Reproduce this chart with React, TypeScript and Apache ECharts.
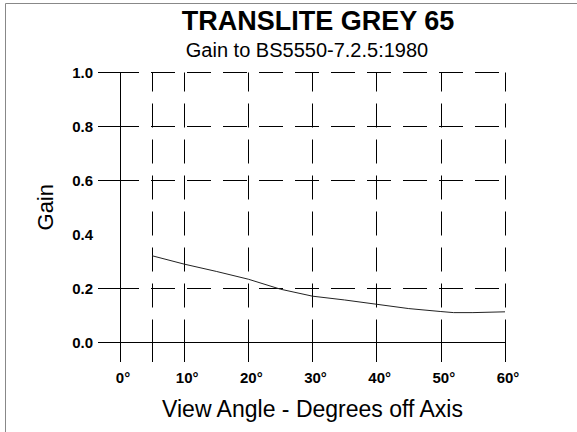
import React, { useEffect, useRef } from "react";
import * as echarts from "echarts";

const titleText = "TRANSLITE GREY 65";
const subtitleText = "Gain to BS5550-7.2.5:1980";
const xName = "View Angle - Degrees off Axis";
const yName = "Gain";

const angles = [5, 10, 15, 20, 25, 30, 35, 40, 45, 50, 52, 55, 60];
const gains = [0.32, 0.289, 0.262, 0.233, 0.196, 0.17, 0.156, 0.14, 0.124, 0.113, 0.109, 0.109, 0.112];

const xTickValues = [0, 5, 10, 20, 30, 40, 50, 60];
const xLabelValues = [0, 10, 20, 30, 40, 50, 60];
const yTickValues = [0, 0.2, 0.6, 0.8, 1.0];
const yLabelValues = [0, 0.2, 0.4, 0.6, 0.8, 1.0];

const FONT = "'Liberation Sans', Arial, sans-serif";

export default function App() {
  const ref = useRef<HTMLDivElement>(null);
  useEffect(() => {
    if (!ref.current) return;
    const chart = echarts.init(ref.current, undefined, { renderer: "svg" });
    const dash = { color: "#000", width: 1, type: [24, 12] as any, dashOffset: 5 };
    chart.setOption({
      animation: false,
      backgroundColor: "#fff",
      textStyle: { fontFamily: FONT },
      title: [
        {
          text: titleText,
          left: 318,
          top: 7,
          textAlign: "center",
          padding: 0,
          textStyle: { fontSize: 27, fontWeight: "bold", color: "#000", fontFamily: FONT },
        },
        {
          text: subtitleText,
          left: 307,
          top: 40,
          textAlign: "center",
          padding: 0,
          textStyle: { fontSize: 20, fontWeight: "normal", color: "#000", fontFamily: FONT },
        },
      ],
      graphic: [
        { type: "line", shape: { x1: 5.5, y1: 3.5, x2: 577, y2: 3.5 }, style: { stroke: "#888", lineWidth: 1 } },
        { type: "line", shape: { x1: 5.5, y1: 3.5, x2: 5.5, y2: 432 }, style: { stroke: "#888", lineWidth: 1 } },
      ],
      grid: { left: 120, right: 72, top: 72.5, bottom: 90, containLabel: false },
      xAxis: {
        type: "value",
        min: 0,
        max: 60,
        interval: 10,
        name: xName,
        nameLocation: "middle",
        nameGap: 55,
        nameTextStyle: { fontSize: 23, fontWeight: "normal", color: "#000", fontFamily: FONT },
        axisLine: { show: true, onZero: false, lineStyle: { color: "#000", width: 1 } },
        axisTick: { show: true, length: 20, customValues: xTickValues, lineStyle: { color: "#000", width: 1 } },
        axisLabel: {
          customValues: xLabelValues,
          formatter: (v: number) => `${v}°`,
          fontWeight: "bold",
          fontSize: 15,
          color: "#000",
          margin: 28,
          padding: [0, 0, 0, 6],
          fontFamily: FONT,
        },
        splitLine: { show: true, lineStyle: dash },
      },
      yAxis: {
        type: "value",
        min: 0,
        max: 1,
        interval: 0.2,
        name: yName,
        nameLocation: "middle",
        nameGap: 64,
        nameRotate: 90,
        nameTextStyle: { fontSize: 22, fontWeight: "normal", color: "#000", fontFamily: FONT },
        axisLine: { show: true, onZero: false, lineStyle: { color: "#000", width: 1 } },
        axisTick: { show: true, length: 22, customValues: yTickValues, lineStyle: { color: "#000", width: 1 } },
        axisLabel: {
          customValues: yLabelValues,
          formatter: (v: number) => v.toFixed(1),
          fontWeight: "bold",
          fontSize: 15,
          color: "#000",
          margin: 27,
          fontFamily: FONT,
        },
        splitLine: { show: true, lineStyle: dash },
      },
      series: [
        {
          type: "line",
          data: angles.map((a, i) => [a, gains[i]]),
          showSymbol: false,
          symbol: "none",
          lineStyle: { color: "#222", width: 1 },
          z: 5,
        },
      ],
    });
    return () => chart.dispose();
  }, []);
  return (
    <div
      ref={ref}
      style={{ position: "absolute", left: 0, top: 0, width: 577, height: 432, background: "#fff" }}
    />
  );
}
